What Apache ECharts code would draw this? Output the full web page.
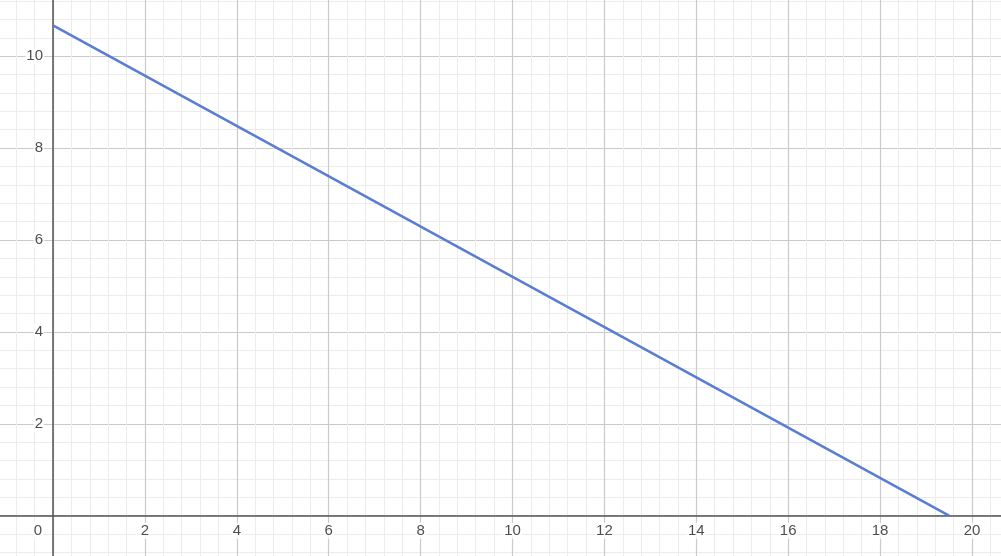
<!DOCTYPE html>
<html>
<head>
<meta charset="utf-8">
<title>line</title>
<style>
  html, body { margin: 0; padding: 0; background: #fff; }
  #main { width: 1001px; height: 556px; }
</style>
</head>
<body>
<div id="main"></div>
<script src="https://cdn.jsdelivr.net/npm/echarts@6/dist/echarts.min.js"></script>
<script>
// line through the two intercepts
var lineX = [0, 19.5];
var lineY = [10.67, 0];
// tick labels shown next to the axes
var xTickLabels = [2, 4, 6, 8, 10, 12, 14, 16, 18, 20];
var yTickLabels = [2, 4, 6, 8, 10];
// visible window (in units) is wider than the canvas, edges cropped by negative grid
var xRange = [-2, 22];
var yRange = [-2, 12];
var majorStep = 2;
var minorSplit = 5;

var unit = 45.95;        // px per unit
var originX = 53, originY = 515.7;

var myChart = echarts.init(document.getElementById('main'));

var pts = [];
for (var i = 0; i < lineX.length; i++) pts.push([lineX[i], lineY[i]]);

var xLab = [];
for (var i = 0; i < xTickLabels.length; i++) xLab.push([xTickLabels[i], 0]);
var yLab = [];
for (var i = 0; i < yTickLabels.length; i++) yLab.push([0, yTickLabels[i]]);

var labelFont = {
    show: true,
    color: '#222',
    fontSize: 15,
    fontFamily: 'Arial, "Liberation Sans", sans-serif',
    backgroundColor: '#fff',
    padding: [1, 1, 0, 1]
};

function axisOpt(range) {
    return {
        type: 'value',
        min: range[0],
        max: range[1],
        interval: majorStep,
        axisLine: { onZero: true, lineStyle: { color: '#555', width: 1.5 } },
        axisTick: { show: false },
        axisLabel: { show: false },
        splitLine: { show: true, lineStyle: { color: '#cacaca', width: 1.2 } },
        minorTick: { show: false, splitNumber: minorSplit },
        minorSplitLine: { show: true, lineStyle: { color: '#ececec', width: 1 } }
    };
}

myChart.setOption({
    animation: false,
    grid: {
        left: originX + xRange[0] * unit,
        right: 1001 - (originX + xRange[1] * unit),
        top: originY - yRange[1] * unit,
        bottom: 556 - (originY - yRange[0] * unit),
        containLabel: false,
        outerBoundsMode: 'none'
    },
    xAxis: axisOpt(xRange),
    yAxis: axisOpt(yRange),
    series: [{
        type: 'line',
        data: pts,
        symbol: 'none',
        lineStyle: { color: '#5a7dcf', width: 2.5 },
        z: 3
    }, {
        type: 'scatter',
        data: xLab,
        symbolSize: 0,
        silent: true,
        label: Object.assign({ position: 'bottom', distance: 7, formatter: function (p) { return String(p.value[0]); } }, labelFont),
        z: 4
    }, {
        type: 'scatter',
        data: yLab,
        symbolSize: 0,
        silent: true,
        label: Object.assign({ position: 'left', distance: 9, formatter: function (p) { return String(p.value[1]); } }, labelFont),
        z: 4
    }, {
        type: 'scatter',
        data: [[0, 0]],
        symbolSize: 0,
        silent: true,
        label: Object.assign({ position: 'bottom', distance: 7, offset: [-15, 0], formatter: '0' }, labelFont),
        z: 4
    }]
});
</script>
</body>
</html>
